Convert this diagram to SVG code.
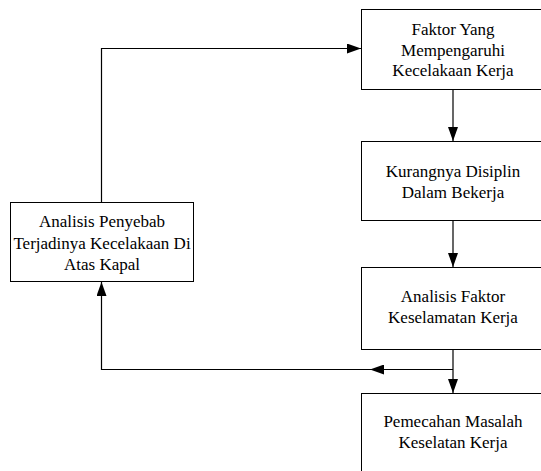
<svg xmlns="http://www.w3.org/2000/svg" width="541" height="471" viewBox="0 0 541 471">
<style>
.box{fill:#fff;stroke:#000;stroke-width:1}
text{font-size:17px;fill:#000;text-anchor:middle}
.c{fill:none;stroke:#000;stroke-width:1.2}
</style>
<defs>
<marker id="ah" markerWidth="14" markerHeight="10" refX="14" refY="5" orient="auto" markerUnits="userSpaceOnUse">
<path d="M0,0 L14,5 L0,10 Z" fill="#000"/>
</marker>
</defs>
<rect width="541" height="471" fill="#fff"/>
<g font-family="Liberation Serif, DejaVu Serif, serif">
<g id="n1">
<rect class="box" x="361.5" y="9.5" width="184" height="80"/>
<text x="453" y="35">Faktor Yang</text>
<text x="453" y="55.5">Mempengaruhi</text>
<text x="453" y="76">Kecelakaan Kerja</text>
</g>
<g id="n2">
<rect class="box" x="361.5" y="141.5" width="184" height="79"/>
<text x="453" y="177">Kurangnya Disiplin</text>
<text x="453" y="198">Dalam Bekerja</text>
</g>
<g id="n3">
<rect class="box" x="361.5" y="267.5" width="184" height="82"/>
<text x="453" y="302">Analisis Faktor</text>
<text x="453" y="323">Keselamatan Kerja</text>
</g>
<g id="n4">
<rect class="box" x="361.5" y="393.5" width="184" height="90"/>
<text x="453" y="427">Pemecahan Masalah</text>
<text x="453" y="448">Keselatan Kerja</text>
</g>
<g id="n5">
<rect class="box" x="10.5" y="202.5" width="183" height="79"/>
<text x="102" y="227">Analisis Penyebab</text>
<text x="102" y="248.5">Terjadinya Kecelakaan Di</text>
<text x="102" y="270">Atas Kapal</text>
</g>
</g>
<g id="connectors">
<path class="c" d="M453,89.5 V141" marker-end="url(#ah)"/>
<path class="c" d="M453,220.5 V267" marker-end="url(#ah)"/>
<path class="c" d="M453,349.5 V393" marker-end="url(#ah)"/>
<path class="c" d="M101.5,202.5 V48.5 H361" marker-end="url(#ah)"/>
<path class="c" d="M453,369.5 H370" marker-end="url(#ah)"/>
<path class="c" d="M370,369.5 H101.5 V282" marker-end="url(#ah)"/>
</g>
</svg>
